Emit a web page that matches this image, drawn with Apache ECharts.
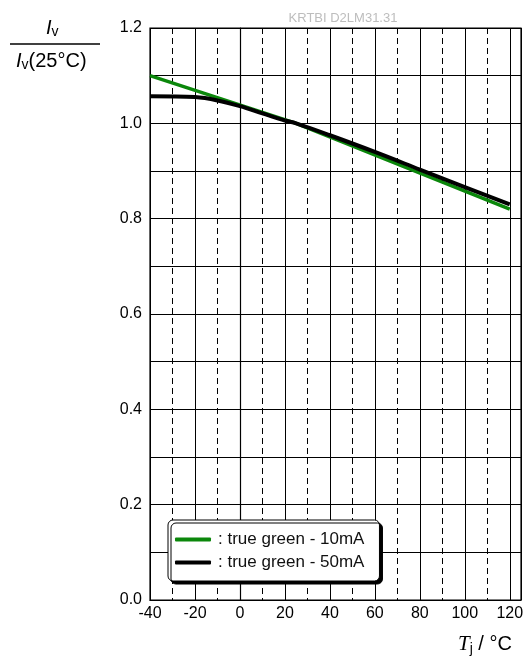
<!DOCTYPE html>
<html><head><meta charset="utf-8">
<script src="https://cdn.jsdelivr.net/npm/echarts@6/dist/echarts.min.js"></script>
<style>html,body{margin:0;padding:0;background:#fff}#c{width:528px;height:661px}</style>
</head><body><div id="c"></div>
<script>
const chartTitle = 'KRTBI D2LM31.31';
const seriesNames = [': true green - 10mA', ': true green - 50mA'];
const green10mA = [[-40, 1.100], [25, 1.000], [120, 0.820]];
const black50mA = [[-40, 1.057], [-20, 1.055], [-10, 1.048], [0, 1.036], [10, 1.021], [20, 1.006], [25, 1.000], [40, 0.975], [60, 0.940], [80, 0.903], [100, 0.866], [120, 0.830]];
const xTickLabels = [-40, -20, 0, 20, 40, 60, 80, 100, 120];
const yTickLabels = ['0.0', '0.2', '0.4', '0.6', '0.8', '1.0', '1.2'];

const font = 'Liberation Sans, Arial, sans-serif';
const chart = echarts.init(document.getElementById('c'));
chart.setOption({
  animation: false,
  title: { text: chartTitle, left: 338, top: 7, textAlign: 'center',
    textStyle: { color: '#bdbdbd', fontSize: 13, fontWeight: 'normal', fontFamily: font } },
  grid: { left: 150, top: 28, width: 371, height: 572, show: true, borderColor: '#000', borderWidth: 1.2, backgroundColor: 'transparent' },
  xAxis: [
    { type: 'value', min: -40, max: 125, interval: 20,
      axisLine: { show: true, onZero: false, lineStyle: { color: '#000', width: 1.2 } },
      axisTick: { show: false },
      axisLabel: { color: '#000', fontSize: 16, fontFamily: font, margin: 6,
        formatter: v => xTickLabels.includes(v) ? String(v) : '' , showMaxLabel: false},
      splitLine: { show: true, lineStyle: { color: '#000', width: 1, type: 'solid' } } },
    { type: 'value', min: -40, max: 125, interval: 10, position: 'bottom',
      axisLine: { show: false }, axisTick: { show: false }, axisLabel: { show: false },
      splitLine: { show: true, lineStyle: { color: '#000', width: 1, type: [6, 4] } } }
  ],
  yAxis: [
    { type: 'value', min: 0, max: 1.2, interval: 0.1,
      axisLine: { show: true, lineStyle: { color: '#000', width: 1.2 } },
      axisTick: { show: true, inside: true, length: 5, lineStyle: { color: '#000' } },
      axisLabel: { color: '#000', fontSize: 16, fontFamily: font, margin: 8,
        formatter: v => { const s = v.toFixed(1); return yTickLabels.includes(s) && Math.round(v*10)%2===0 ? s : ''; } },
      splitLine: { show: true, lineStyle: { color: '#000', width: 1 } } },
    { type: 'value', min: 0, max: 1.2, interval: 0.1, position: 'right',
      axisLine: { show: false },
      axisTick: { show: true, inside: true, length: 5, lineStyle: { color: '#000' } },
      axisLabel: { show: false }, splitLine: { show: false } }
  ],
  legend: {
    left: 168, top: 520, orient: 'vertical', itemGap: 6,
    backgroundColor: '#fff', borderColor: '#000', borderWidth: 1, borderRadius: 5,
    shadowColor: '#000', shadowBlur: 0, shadowOffsetX: 3, shadowOffsetY: 3,
    padding: [11, 15, 10, 7],
    itemWidth: 36, itemHeight: 4, icon: 'roundRect',
    textStyle: { color: '#111', fontSize: 17, fontFamily: font, padding: [0, 0, 0, 2] },
    data: seriesNames
  },
  series: [
    { name: seriesNames[0], type: 'line', data: green10mA, showSymbol: false, smooth: false,
      lineStyle: { color: '#0b870b', width: 3.5 }, itemStyle: { color: '#0b870b' }, z: 3 },
    { name: seriesNames[1], type: 'line', data: black50mA, showSymbol: false, smooth: 0.35,
      lineStyle: { color: '#000', width: 4 }, itemStyle: { color: '#000' }, z: 4 }
  ],
  graphic: [
    { type: 'text', left: 46, top: 18, style: { rich: {
        i: { fontStyle: 'italic', fontSize: 20, fontFamily: font, fill: '#000' },
        s: { fontSize: 14, fontFamily: font, fill: '#000', padding: [9, 0, 0, 0] } },
      text: '{i|I}{s|v}' } },
    { type: 'line', shape: { x1: 10, y1: 44, x2: 100, y2: 44 }, style: { stroke: '#000', lineWidth: 1.3 } },
    { type: 'text', left: 16, top: 51, style: { rich: {
        i: { fontStyle: 'italic', fontSize: 20, fontFamily: font, fill: '#000' },
        s: { fontSize: 14, fontFamily: font, fill: '#000', padding: [9, 0, 0, 0] },
        n: { fontSize: 20, fontFamily: font, fill: '#000' } },
      text: '{i|I}{s|v}{n|(25°C)}' } },
    { type: 'text', left: 458, top: 634, style: { rich: {
        t: { fontStyle: 'italic', fontSize: 21, fontFamily: 'Liberation Serif, Times New Roman, serif', fill: '#000' },
        s: { fontSize: 14, fontFamily: font, fill: '#000', padding: [9, 0, 0, 0] },
        n: { fontSize: 20, fontFamily: font, fill: '#000' } },
      text: '{t|T}{s|j}{n| / °C}' } }
  ]
});
</script></body></html>
